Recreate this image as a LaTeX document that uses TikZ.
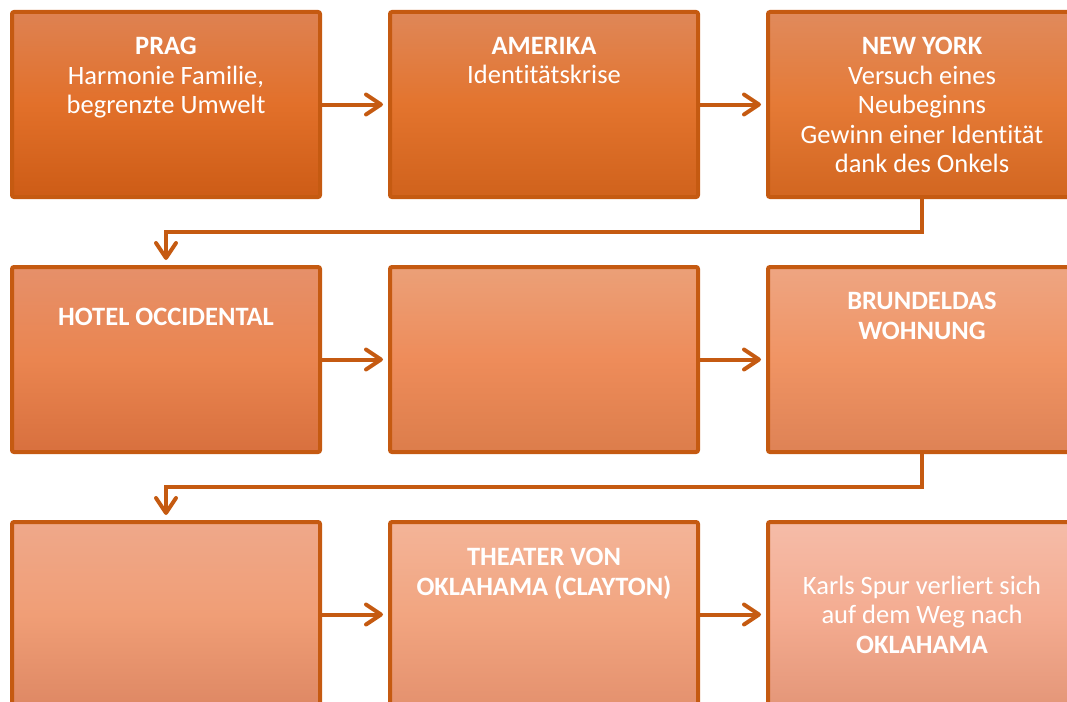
\documentclass[tikz,border=0pt]{standalone}
\usepackage{fontspec}
\setmainfont{Carlito}[Ligatures=NoCommon]
\usetikzlibrary{arrows.meta,calc}
\definecolor{edge}{HTML}{C55A11}
\definecolor{aT}{RGB}{222,130,82}\definecolor{aM}{RGB}{226,112,42}\definecolor{aB}{RGB}{205,92,22}
\definecolor{bT}{RGB}{223,135,88}\definecolor{bM}{RGB}{227,116,46}\definecolor{bB}{RGB}{208,98,28}
\definecolor{cT}{RGB}{224,138,92}\definecolor{cM}{RGB}{229,122,54}\definecolor{cB}{RGB}{210,102,32}
\definecolor{dT}{RGB}{230,144,106}\definecolor{dM}{RGB}{234,133,80}\definecolor{dB}{RGB}{216,112,62}
\definecolor{eT}{RGB}{235,160,120}\definecolor{eM}{RGB}{238,140,90}\definecolor{eB}{RGB}{220,125,75}
\definecolor{fT}{RGB}{238,165,130}\definecolor{fM}{RGB}{240,148,100}\definecolor{fB}{RGB}{222,130,85}
\definecolor{gT}{RGB}{239,168,138}\definecolor{gM}{RGB}{240,158,118}\definecolor{gB}{RGB}{222,136,100}
\definecolor{hT}{RGB}{243,180,152}\definecolor{hM}{RGB}{242,165,128}\definecolor{hB}{RGB}{228,145,110}
\definecolor{iT}{RGB}{245,188,168}\definecolor{iM}{RGB}{244,172,145}\definecolor{iB}{RGB}{228,150,120}
\tikzset{
  box/.style={draw=edge, line width=4pt, rounded corners=2pt,
    minimum width=308pt, minimum height=185pt, inner sep=0pt},
  txt/.style={text=white, align=center, inner sep=0pt, anchor=north,
    font=\fontsize{26.5}{29.5}\selectfont},
  conn/.style={draw=edge, line width=4pt,
    -{Straight Barb[length=15pt,width=20pt,line cap=round,line join=round]},
    shorten >=5pt},
  sh/.style={top color=#1T, bottom color=#1B, middle color=#1M}
}
\begin{document}
\begin{tikzpicture}[x=1pt,y=-1pt]
\useasboundingbox (0,0) rectangle (1067,701);
\clip (0,0) rectangle (1067,701);
% boxes
\node[box, sh=a] (b1) at (166,104.5) {};
\node[box, sh=b] (b2) at (544,104.5) {};
\node[box, sh=c] (b3) at (922,104.5) {};
\node[box, sh=d] (b4) at (166,359.5) {};
\node[box, sh=e] (b5) at (544,359.5) {};
\node[box, sh=f] (b6) at (922,359.5) {};
\node[box, sh=g] (b7) at (166,614.5) {};
\node[box, sh=h] (b8) at (544,614.5) {};
\node[box, sh=i] (b9) at (922,614.5) {};
% texts
\node[txt] (t1) at ($(b1.north)+(0,27)$) {\textbf{PRAG}\\Harmonie Familie,\\begrenzte Umwelt};
\node[txt] (t2) at ($(b2.north)+(0,27)$) {\textbf{AMERIKA}\\Identitätskrise};
\node[txt] (t3) at ($(b3.north)+(0,27)$) {\textbf{NEW YORK}\\Versuch eines\\Neubeginns\\Gewinn einer Identität\\dank des Onkels};
\node[txt] (t4) at ($(b4.north)+(0,43)$) {\textbf{HOTEL OCCIDENTAL}};
\node[txt] (t6) at ($(b6.north)+(0,27)$) {\textbf{BRUNDELDAS}\\\textbf{WOHNUNG}};
\node[txt] (t8) at ($(b8.north)+(0,28)$) {\textbf{THEATER VON}\\\textbf{OKLAHAMA (CLAYTON)}};
\node[txt, anchor=center] (t9) at ($(b9.center)+(0,0)$) {Karls Spur verliert sich\\auf dem Weg nach\\\textbf{OKLAHAMA}};
% connectors
\draw[conn] (b1) -- (b2);
\draw[conn] (b2) -- (b3);
\draw[conn] (b4) -- (b5);
\draw[conn] (b5) -- (b6);
\draw[conn] (b7) -- (b8);
\draw[conn] (b8) -- (b9);
\draw[conn] (b3.south) -- ++(0,33) -| (b4.north);
\draw[conn] (b6.south) -- ++(0,33) -| (b7.north);
\end{tikzpicture}
\end{document}
